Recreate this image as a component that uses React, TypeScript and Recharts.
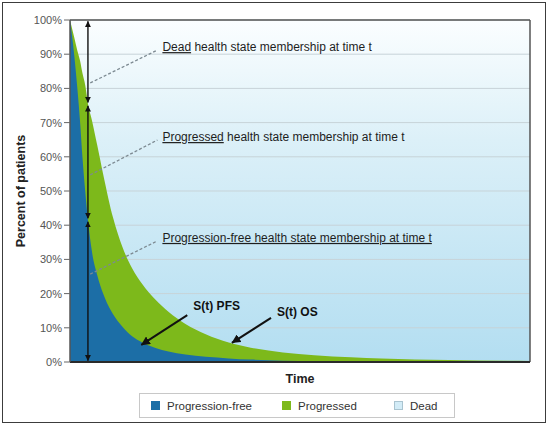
import React from "react";
import { Area, AreaChart, CartesianGrid, ReferenceLine, XAxis, YAxis } from "recharts";

// time axis is unitless (0..100), values are percent of patients
const timePoints = [0, 0.9, 1.6, 2.2, 2.7, 3.3, 3.9, 4.8, 5.9, 7.2, 9.4, 11.4, 13.5, 15.7, 18.6, 21.4, 25.1, 29.5, 34.5, 39.3, 46.3, 53.1, 61.1, 67.7, 82.3, 100];
const progressionFree = [100, 90, 80, 70, 60, 50, 41.5, 32, 25.5, 20, 13.9, 10.3, 7.5, 5.7, 4.1, 3.1, 2.2, 1.5, 1.05, 0.7, 0.4, 0.22, 0.1, 0.06, 0.02, 0];
const overallSurvival = [100, 95, 91, 88, 84.5, 81, 75.5, 70.5, 63.5, 55, 42, 33.6, 27.4, 22.8, 18.2, 14.7, 11.1, 8.1, 5.7, 4.2, 2.8, 2.0, 1.4, 1.05, 0.57, 0.28];

const yTicks = [0, 10, 20, 30, 40, 50, 60, 70, 80, 90, 100];
const legendLabels = ["Progression-free", "Progressed", "Dead"];

// double-headed arrow splitting the states at one time point
const arrowTime = 3.9;
const arrowBounds = [99.6, 75.4, 41.5, 0.4];

const leaderNotes = [
  { from: [4.4, 81.6], to: [19, 91.2], underlined: "Dead", rest: " health state membership at time t" },
  { from: [4.4, 54.7], to: [19, 64.9], underlined: "Progressed", rest: " health state membership at time t" },
  { from: [4.4, 25.7], to: [19, 35.4], underlined: "Progression-free health state membership at time t", rest: "" },
];

const curveNotes = [
  { text: "S(t) PFS", from: [25.5, 13.7], to: [15.5, 5.0], dy: -5 },
  { text: "S(t) OS", from: [43.7, 12.9], to: [35.2, 5.6], dy: -2 },
];

const data = timePoints.map((t, i) => ({ t, pfs: progressionFree[i], os: overallSurvival[i] }));

const BLUE = "#1c6ea6";
const GREEN = "#7db91b";
const FONT = "'Liberation Sans', Arial, sans-serif";
const swatches = [BLUE, GREEN, "#d3ecf7"];

export default function App() {
  return (
    <div style={{ position: "fixed", left: 0, top: 0, width: 550, height: 426, background: "#fff", fontFamily: FONT }}>
      <div style={{ position: "absolute", left: 2, top: 2, width: 544, height: 421, border: "1.5px solid #3c3c3c", boxSizing: "border-box" }} />
      <div style={{ position: "absolute", left: 0, top: 0 }}>
        <AreaChart width={550} height={426} data={data} margin={{ top: 20, right: 20, left: 8, bottom: 34 }} style={{ fontFamily: FONT }}>
          <defs>
            <linearGradient id="deadGrad" x1="0" y1="0" x2="0" y2="1">
              <stop offset="0%" stopColor="#fbfeff" />
              <stop offset="35%" stopColor="#dcf0f8" />
              <stop offset="100%" stopColor="#b3def1" />
            </linearGradient>
            <marker id="headSmall" viewBox="0 0 10 10" refX="9.5" refY="5" markerWidth="6" markerHeight="6" markerUnits="userSpaceOnUse" orient="auto-start-reverse">
              <path d="M0,0 L10,5 L0,10 z" fill="#111" />
            </marker>
            <marker id="headBig" viewBox="0 0 10 10" refX="9.5" refY="5" markerWidth="9" markerHeight="9" markerUnits="userSpaceOnUse" orient="auto">
              <path d="M0,0 L10,5 L0,10 z" fill="#111" />
            </marker>
          </defs>
          <CartesianGrid vertical={false} stroke="#c7d3d8" fill="url(#deadGrad)" fillOpacity={1} />
          <Area type="monotone" dataKey="os" stroke="none" fill={GREEN} fillOpacity={1} isAnimationActive={false} />
          <Area type="monotone" dataKey="pfs" stroke="none" fill={BLUE} fillOpacity={1} isAnimationActive={false} />
          <XAxis
            type="number"
            dataKey="t"
            domain={[0, 100]}
            tick={false}
            tickLine={false}
            height={30}
            axisLine={{ stroke: "#2a2a2a", strokeWidth: 2 }}
            label={{ value: "Time", position: "insideBottom", offset: 9, fill: "#222", fontSize: 12.5, fontWeight: 700 }}
          />
          <YAxis
            domain={[0, 100]}
            ticks={yTicks}
            width={62}
            tickFormatter={(v) => `${v}%`}
            tick={{ fill: "#555", fontSize: 11 }}
            tickSize={6}
            tickMargin={2}
            tickLine={{ stroke: "#666" }}
            axisLine={{ stroke: "#555", strokeWidth: 1.5 }}
            label={{ value: "Percent of patients", angle: -90, position: "insideLeft", offset: 13, fill: "#222", fontSize: 12.5, fontWeight: 700, style: { textAnchor: "middle" } }}
          />
          <ReferenceLine y={100} stroke="#555" strokeWidth={1.5} />
          <ReferenceLine x={100} stroke="#555" strokeWidth={1.5} />
          {arrowBounds.slice(0, -1).map((top, i) => (
            <ReferenceLine
              key={`arrow-${i}`}
              segment={[
                { x: arrowTime, y: i === 0 ? top : top - 0.5 },
                { x: arrowTime, y: i === arrowBounds.length - 2 ? arrowBounds[i + 1] : arrowBounds[i + 1] + 0.5 },
              ]}
              shape={(p: any) => (
                <line x1={p.x1} y1={p.y1} x2={p.x2} y2={p.y2} stroke="#111" strokeWidth={1.4} markerStart="url(#headSmall)" markerEnd="url(#headSmall)" />
              )}
            />
          ))}
          {leaderNotes.map((n, i) => (
            <ReferenceLine
              key={`lead-${i}`}
              segment={[
                { x: n.from[0], y: n.from[1] },
                { x: n.to[0], y: n.to[1] },
              ]}
              shape={(p: any) => (
                <g>
                  <line x1={p.x1} y1={p.y1} x2={p.x2} y2={p.y2} stroke="#7d8a92" strokeWidth={1.3} strokeDasharray="3 2" />
                  <text x={p.x2 + 5} y={p.y2 + 1} fontSize={12} fill="#1e1e1e" fontFamily={FONT}>
                    <tspan textDecoration="underline">{n.underlined}</tspan>
                    {n.rest}
                  </text>
                </g>
              )}
            />
          ))}
          {curveNotes.map((n, i) => (
            <ReferenceLine
              key={`curve-${i}`}
              segment={[
                { x: n.from[0], y: n.from[1] },
                { x: n.to[0], y: n.to[1] },
              ]}
              shape={(p: any) => (
                <g>
                  <line x1={p.x1} y1={p.y1} x2={p.x2} y2={p.y2} stroke="#111" strokeWidth={2} markerEnd="url(#headBig)" />
                  <text x={p.x1 + 6} y={p.y1 + n.dy} fontSize={12} fontWeight={700} fill="#111" fontFamily={FONT}>
                    {n.text}
                  </text>
                </g>
              )}
            />
          ))}
        </AreaChart>
      </div>
      <div
        style={{
          position: "absolute",
          left: 139,
          top: 393,
          width: 316,
          height: 25,
          border: "1.5px solid #c8c8c8",
          boxSizing: "border-box",
          display: "flex",
          alignItems: "center",
          paddingLeft: 11,
          fontSize: 11.5,
          color: "#333",
        }}
      >
        {legendLabels.map((label, i) => (
          <div key={label} style={{ display: "flex", alignItems: "center", width: i === 0 ? 131 : i === 1 ? 112 : undefined }}>
            <span
              style={{
                display: "inline-block",
                width: 9,
                height: 9,
                background: swatches[i],
                border: i === 2 ? "1px solid #aac4d0" : "none",
                boxSizing: "border-box",
                marginRight: 7,
              }}
            />
            <span>{label}</span>
          </div>
        ))}
      </div>
    </div>
  );
}
